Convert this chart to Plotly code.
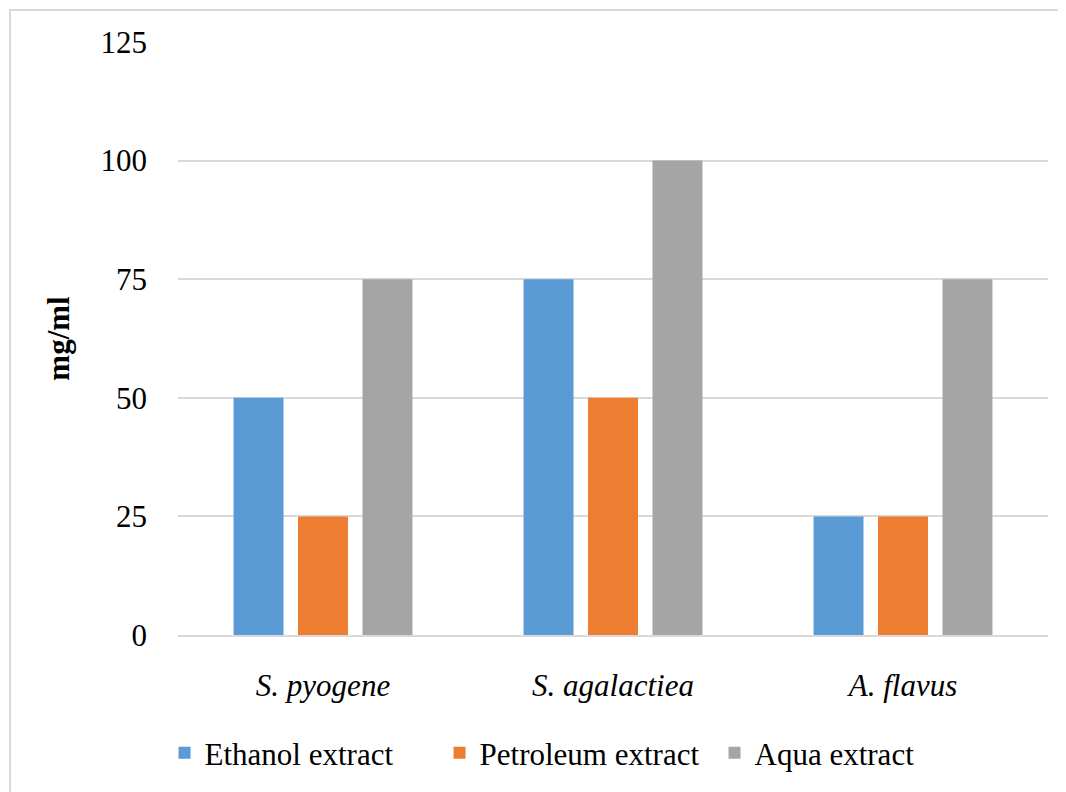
import plotly.graph_objects as go

categories = ["S. pyogene", "S. agalactiea", "A. flavus"]
ethanol = [50, 75, 25]
petroleum = [25, 50, 25]
aqua = [75, 100, 75]
series_names = ["Ethanol extract", "Petroleum extract", "Aqua extract"]
colors = ["#5B9BD5", "#ED7D31", "#A5A5A5"]
y_ticks = [0, 25, 50, 75, 100, 125]

W, H = 1066, 792
OFF = 8  # page body offset
L, R, T, B = 178 - OFF, 18 + OFF, 42 - OFF, 157 + OFF
FONT = "Liberation Serif, Times New Roman, serif"
FS = 31

fig = go.Figure()
for name, vals, col in zip(series_names, [ethanol, petroleum, aqua], colors):
    fig.add_trace(go.Bar(x=categories, y=vals, name=name, marker=dict(color=col, line=dict(width=0))))

pw = W - L - R
ph = H - T - B
# outer border (pixel positions converted to paper coords)
bx0 = (10 - OFF - L) / pw
bx1 = (W + 10 - L) / pw
by1 = 1 + (T - (10 - OFF)) / ph
by0 = -(B + 10) / ph
fig.add_shape(type="rect", xref="paper", yref="paper", x0=bx0, x1=bx1, y0=by0, y1=by1,
              line=dict(color="#d9d9d9", width=2), fillcolor="rgba(0,0,0,0)", layer="below")

fig.update_layout(
    width=W, height=H,
    margin=dict(l=L, r=R, t=T, b=B, autoexpand=False),
    paper_bgcolor="white", plot_bgcolor="white",
    font=dict(family=FONT, size=FS, color="black"),
    barmode="group", bargap=0.333, bargroupgap=0.225,
    showlegend=True,
    legend=dict(orientation="h", xref="container", yref="container", x=0.5338, xanchor="center",
                y=0.0593, yanchor="middle", font=dict(family=FONT, size=FS, color="black"),
                entrywidth=230, entrywidthmode="pixels",
                itemclick=False),
    yaxis=dict(range=[0, 125], tickvals=y_ticks, showgrid=True, gridcolor="#d9d9d9", gridwidth=2,
               zeroline=False, showline=False, ticks="", ticklabelstandoff=30,
               tickfont=dict(family=FONT, size=FS, color="black"),
               title=dict(text="<b>mg/ml</b>", standoff=21, font=dict(family=FONT, size=FS, color="black"))),
    xaxis=dict(showline=True, linecolor="#d9d9d9", linewidth=2, ticks="", showgrid=False,
               ticklabelstandoff=22,
               tickfont=dict(family=FONT, size=FS, color="black", style="italic")),
)

fig.write_html("out.html")
